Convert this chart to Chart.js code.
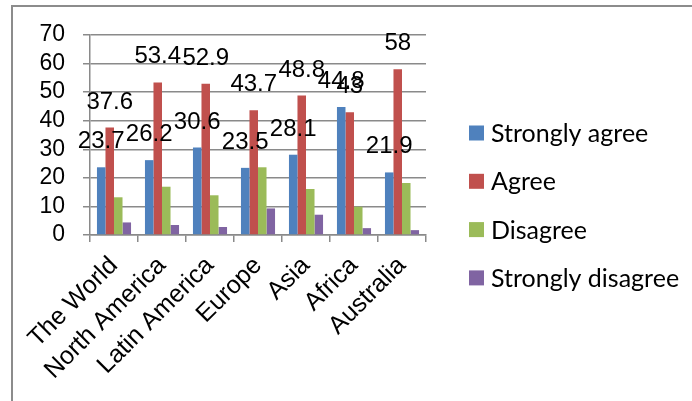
<!DOCTYPE html>
<html>
<head>
<meta charset="utf-8">
<script src="https://cdn.jsdelivr.net/npm/chart.js@4/dist/chart.umd.min.js"></script>
<style>
  html, body { margin: 0; padding: 0; background: #fff; }
  #surveyChart { display: block; }
</style>
</head>
<body>
<canvas id="surveyChart" width="692" height="401"></canvas>
<script>
const regions = ["The World", "North America", "Latin America", "Europe", "Asia", "Africa", "Australia"];
const stronglyAgree = [23.7, 26.2, 30.6, 23.5, 28.1, 44.8, 21.9];
const agree = [37.6, 53.4, 52.9, 43.7, 48.8, 43, 58];
const disagree = [13.2, 16.9, 13.9, 23.7, 16.1, 9.9, 18.2];
const stronglyDisagree = [4.4, 3.5, 2.8, 9.3, 7.1, 2.4, 1.7];
const yMin = 0;
const yMax = 70;
const yStep = 10;

const GRID = "#8a8a8a";
const Y_FONT = { family: "'Liberation Sans', Arial, sans-serif", size: 23 };
const X_FONT = { family: "'Liberation Sans', Arial, sans-serif", size: 25 };

// frame line at the top and left like the pasted office chart
const framePlugin = {
  id: "frame",
  beforeDraw(chart) {
    const c = chart.ctx;
    c.save();
    c.strokeStyle = "#8c8c8c";
    c.lineWidth = 2;
    c.beginPath();
    c.moveTo(12, chart.height);
    c.lineTo(12, 6);
    c.lineTo(chart.width, 6);
    c.stroke();
    c.restore();
  },
};

// value labels above the first two series only
const valueLabels = {
  id: "valueLabels",
  afterDatasetsDraw(chart) {
    const c = chart.ctx;
    c.save();
    c.font = "24px 'Liberation Sans', Arial, sans-serif";
    c.fillStyle = "#000";
    c.textAlign = "center";
    c.textBaseline = "alphabetic";
    [0, 1].forEach((di) => {
      const meta = chart.getDatasetMeta(di);
      meta.data.forEach((bar, i) => {
        c.fillText(String(chart.data.datasets[di].data[i]), bar.x, bar.y - 19);
      });
    });
    c.restore();
  },
};

// legend on the right, square swatches
const sideLegend = {
  id: "sideLegend",
  afterDraw(chart) {
    const c = chart.ctx;
    c.save();
    c.font = "25px Lato, 'Open Sans', sans-serif";
    c.textAlign = "left";
    c.textBaseline = "middle";
    chart.data.datasets.forEach((ds, i) => {
      const cy = 133 + i * 48.3;
      c.fillStyle = ds.backgroundColor;
      c.fillRect(469, cy - 7.5, 15, 15);
      c.fillStyle = "#000";
      c.fillText(ds.label, 491, cy + 1);
    });
    c.restore();
  },
};

new Chart(document.getElementById("surveyChart"), {
  type: "bar",
  data: {
    labels: regions,
    datasets: [
      { label: "Strongly agree", data: stronglyAgree, backgroundColor: "#4F81BD" },
      { label: "Agree", data: agree, backgroundColor: "#C0504D" },
      { label: "Disagree", data: disagree, backgroundColor: "#9BBB59" },
      { label: "Strongly disagree", data: stronglyDisagree, backgroundColor: "#8064A2" },
    ],
  },
  options: {
    responsive: false,
    animation: false,
    layout: { padding: { top: 35, right: 266, left: 0, bottom: 0 } },
    datasets: {
      bar: { categoryPercentage: 0.71, barPercentage: 1, borderWidth: 0 },
    },
    plugins: {
      legend: { display: false },
      tooltip: { enabled: false },
    },
    scales: {
      x: {
        afterFit: (scale) => { scale.height = 166; },
        grid: { offset: true, drawOnChartArea: false, drawTicks: true, tickLength: 7, color: GRID, lineWidth: 1.5 },
        border: { color: GRID, width: 1.5 },
        ticks: { color: "#000", font: X_FONT, minRotation: 45, maxRotation: 45, padding: 9, autoSkip: false },
      },
      y: {
        min: yMin,
        max: yMax,
        afterFit: (scale) => { scale.width = 90; },
        grid: { color: GRID, lineWidth: 1.5, tickLength: 7 },
        border: { color: GRID, width: 1.5 },
        ticks: { stepSize: yStep, color: "#000", font: Y_FONT, padding: 18, autoSkip: false },
      },
    },
  },
  plugins: [framePlugin, valueLabels, sideLegend],
});
</script>
</body>
</html>
